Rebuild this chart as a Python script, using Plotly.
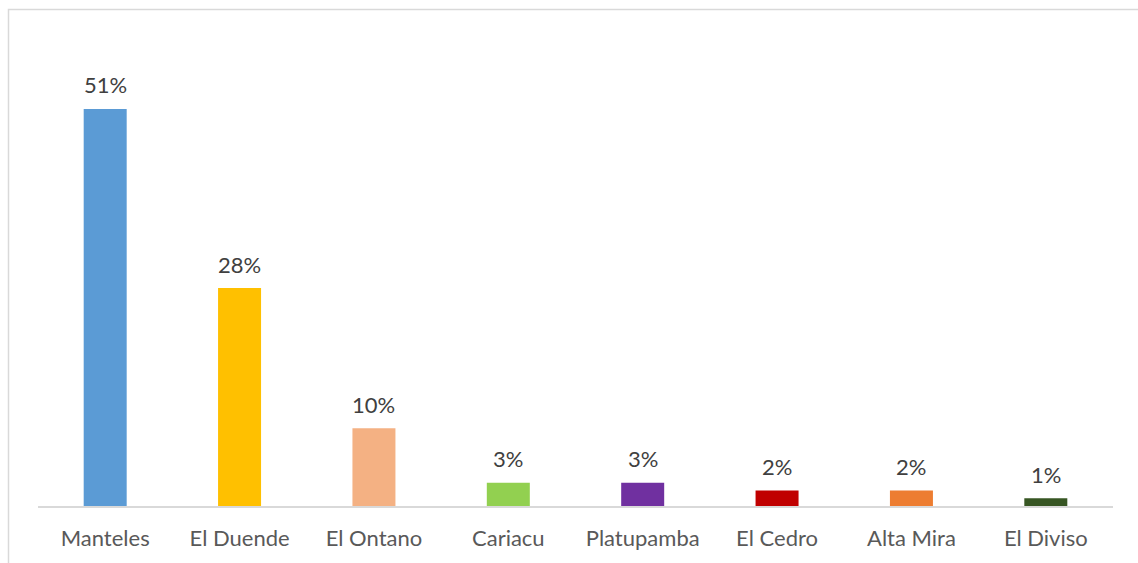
import plotly.graph_objects as go

categories = ["Manteles", "El Duende", "El Ontano", "Cariacu", "Platupamba", "El Cedro", "Alta Mira", "El Diviso"]
values = [51, 28, 10, 3, 3, 2, 2, 1]
labels = ["51%", "28%", "10%", "3%", "3%", "2%", "2%", "1%"]
colors = ["#5B9BD5", "#FFC000", "#F4B183", "#92D050", "#7030A0", "#C00000", "#ED7D31", "#375623"]

W, H = 1138, 563
L, R, T, B = 38, 25, 30, 56.5
ph = H - T - B
pw = W - L - R
ymax = ph / 7.794

fig = go.Figure(go.Bar(x=categories, y=values, marker=dict(color=colors, line=dict(width=0)),
                       hoverinfo="skip"))

for c, v, t in zip(categories, values, labels):
    fig.add_annotation(x=c, y=v, text=t, showarrow=False, yanchor="middle", yshift=24,
                       font=dict(family="Lato", size=22, color="#404040"))

fig.add_shape(type="rect", xref="paper", yref="paper",
              x0=(8.5 - L) / pw, x1=(W + 20 - L) / pw,
              y0=-(B + 20) / ph, y1=1 + (T - 9.5) / ph,
              line=dict(color="#D9D9D9", width=1.5), fillcolor="rgba(0,0,0,0)", layer="below")

fig.update_layout(
    width=W, height=H, margin=dict(l=L, r=R, t=T, b=B, pad=0),
    paper_bgcolor="white", plot_bgcolor="white", bargap=0.68, showlegend=False,
    font=dict(family="Lato", size=22, color="#595959"),
    xaxis=dict(showline=True, linecolor="#D9D9D9", linewidth=1.5, ticks="", showgrid=False,
               ticklabelstandoff=12, tickfont=dict(size=22, color="#595959")),
    yaxis=dict(range=[0, ymax], visible=False, showgrid=False, zeroline=False),
)

fig.write_html("out.html")
